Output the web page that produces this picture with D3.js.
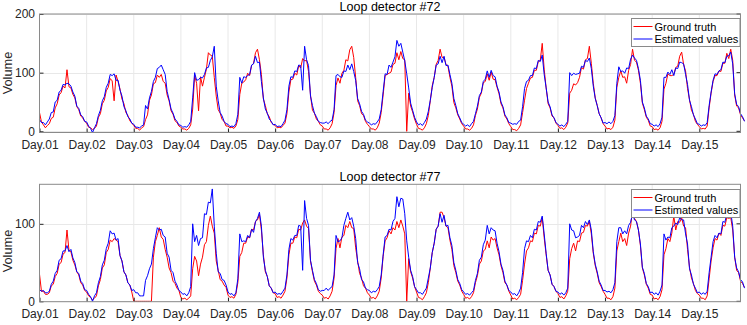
<!DOCTYPE html>
<html>
<head>
<meta charset="utf-8">
<script src="https://cdn.jsdelivr.net/npm/d3@7"></script>
<style>
  body { margin: 0; background: #fff; }
  svg { display: block; font-family: "Liberation Sans", Arial, sans-serif; }
  .tick text { fill: #262626; }
</style>
</head>
<body>
<div id="chart"></div>
<script>
// tick labels, one per day
const dayLabels = ["Day.01","Day.02","Day.03","Day.04","Day.05","Day.06","Day.07","Day.08",
                   "Day.09","Day.10","Day.11","Day.12","Day.13","Day.14","Day.15"];
const stepsPerDay = 24; // hourly readings

// Loop detector #72 - ground truth (red)
const truth72 = [
  32,16,11,6,10,13,22,24,40,47,62,66,77,74,105,76,74,63,57,42,37,26,23,17,
  14,7,6,3,5,9,24,30,47,53,69,75,90,86,52,96,85,72,55,47,32,27,18,14,
  10,5,5,2,6,8,20,28,53,62,81,83,96,92,97,85,82,62,52,35,29,18,15,9,
  7,4,4,2,5,11,38,95,82,35,93,77,92,106,134,130,128,92,60,37,31,20,17,9,
  9,6,7,5,9,20,63,82,84,88,99,95,112,116,134,140,122,97,55,44,30,25,15,12,
  10,6,7,6,10,14,30,67,88,89,99,96,112,108,124,120,121,102,62,36,31,21,17,11,
  9,4,4,2,6,13,32,78,91,82,99,104,122,120,139,145,126,92,52,44,30,27,17,12,
  8,4,4,2,6,14,32,62,95,97,99,101,114,116,134,122,136,124,122,0,65,43,33,21,
  12,5,4,2,6,13,27,52,78,92,114,121,140,126,126,114,111,92,77,49,40,28,21,13,
  9,4,4,2,5,11,27,38,58,65,83,85,98,87,101,89,88,75,64,47,40,26,21,13,
  8,3,3,1,5,11,32,53,73,82,91,92,104,104,119,121,150,106,74,47,40,26,23,14,
  10,5,6,3,7,14,65,70,81,79,83,92,109,106,122,124,145,116,82,57,44,30,23,13,
  9,4,5,3,7,19,75,92,103,92,93,82,104,114,140,121,118,104,82,48,37,24,19,9,
  8,3,4,2,6,17,72,82,98,95,95,97,109,111,128,135,114,103,73,54,36,29,17,12,
  8,4,5,4,9,40,65,85,95,95,103,102,116,116,133,124,140,121,62,43,40,28,23,18
];

// Loop detector #72 - estimated values (blue)
const est72 = [
  20,15,15,11,16,21,32,33,50,53,67,70,80,79,82,81,77,67,60,43,39,28,25,17,
  16,9,5,-2,6,13,27,36,52,59,75,82,97,95,98,87,87,70,60,42,35,25,21,14,
  12,7,7,6,9,11,44,38,57,68,85,92,107,109,113,105,97,68,54,38,31,21,17,11,
  10,7,8,7,11,17,57,100,87,88,92,91,97,108,109,121,127,145,77,52,32,26,17,13,
  12,8,9,8,13,29,92,82,93,92,95,97,113,115,128,117,118,85,57,38,31,21,17,11,
  12,8,9,8,13,19,37,77,93,92,103,102,113,112,70,145,122,112,60,44,31,25,17,15,
  14,14,16,13,17,19,37,95,97,93,92,103,102,113,105,115,102,87,56,47,34,29,19,16,
  14,11,13,12,16,21,37,68,98,97,113,109,118,127,155,145,150,135,120,98,74,48,36,24,
  16,11,13,10,15,21,34,53,75,92,113,115,128,117,128,112,113,97,82,56,44,30,23,15,
  12,9,11,8,13,17,30,43,61,67,85,89,103,92,104,95,93,77,67,50,42,28,23,15,
  14,12,13,12,17,19,42,73,85,87,95,95,108,107,121,119,130,97,74,50,42,28,23,15,
  12,9,11,8,12,17,100,95,99,97,98,99,111,109,121,119,125,107,77,56,44,30,23,14,
  15,13,16,13,17,27,82,110,102,103,99,108,107,123,130,125,121,107,87,50,40,26,21,13,
  12,9,11,8,13,24,92,92,101,97,105,95,108,107,118,117,115,97,80,53,42,28,21,13,
  12,9,11,10,15,44,67,87,98,97,103,105,118,117,128,129,135,115,64,46,42,30,25,17
];

// Loop detector #77 - ground truth (red)
const truth77 = [
  35,13,13,9,9,11,20,22,32,36,48,50,61,63,92,66,64,53,47,38,34,24,21,14,
  12,7,5,2,4,7,20,28,43,47,63,67,79,77,81,79,77,59,52,38,34,24,21,12,
  0,0,0,0,0,0,0,0,0,0,57,77,85,95,83,80,67,57,43,37,26,23,17,14,
  5,3,4,2,4,7,42,58,52,33,48,57,73,77,98,110,97,88,52,40,28,26,21,18,
  8,5,6,4,9,24,58,63,75,75,83,82,93,92,103,105,112,92,60,38,32,20,17,11,
  10,5,6,4,8,13,30,60,75,75,83,82,93,92,101,105,97,94,52,38,26,21,13,10,
  8,4,5,3,7,13,30,68,81,69,83,85,98,95,103,95,94,69,52,36,30,20,17,11,
  8,4,5,3,7,13,30,58,78,82,91,87,95,92,103,95,105,97,87,0,55,38,30,19,
  12,5,4,2,6,11,24,43,63,75,93,97,115,115,108,97,95,79,67,46,37,26,21,13,
  9,4,5,3,6,11,24,33,48,52,65,67,78,69,83,79,81,69,60,46,37,24,21,13,
  8,3,4,2,5,9,27,48,65,69,78,77,88,87,98,97,108,82,60,40,34,22,19,13,
  10,5,6,3,7,13,55,68,75,65,78,77,88,89,98,97,103,87,62,46,36,24,19,13,
  9,4,4,2,6,17,65,77,88,77,81,72,88,97,118,107,103,92,72,43,34,22,17,9,
  8,3,4,2,6,15,60,68,81,77,88,110,92,103,102,108,97,95,67,44,30,23,14,10,
  8,4,4,2,7,29,52,69,81,79,88,85,98,97,108,107,108,92,57,40,37,26,23,18
];

// Loop detector #77 - estimated values (blue)
const est77 = [
  15,13,14,11,11,13,22,26,36,40,53,55,65,65,72,64,67,56,50,38,36,26,23,15,
  14,9,6,0,7,11,24,32,47,53,68,75,91,87,88,79,81,59,52,38,34,24,21,14,
  15,11,11,7,7,7,27,33,42,48,68,82,95,92,93,85,83,62,57,40,37,26,21,14,
  12,9,10,7,11,19,100,77,85,72,81,82,113,112,128,127,145,97,62,38,36,28,27,21,
  12,9,10,7,11,29,87,77,78,77,85,82,93,89,103,107,115,97,57,40,32,20,17,11,
  12,9,10,9,13,17,34,67,81,79,85,85,98,97,40,130,107,98,53,40,28,23,15,13,
  14,14,17,14,17,19,34,85,77,78,82,98,107,115,105,108,97,81,50,42,28,25,17,15,
  14,11,13,12,15,19,34,60,83,85,93,92,103,107,135,122,133,132,113,78,57,40,32,19,
  15,11,11,9,13,17,30,43,63,75,93,97,113,102,111,97,98,82,72,50,40,28,23,15,
  12,9,10,8,11,14,27,36,53,57,73,79,98,87,95,92,91,75,64,48,40,26,21,14,
  12,9,10,7,11,17,37,68,78,77,85,82,93,92,103,102,110,87,62,40,34,22,19,13,
  12,9,11,8,11,17,100,92,91,82,83,85,98,95,103,99,105,92,64,48,38,26,21,14,
  14,12,13,11,15,24,77,95,95,87,91,87,98,102,113,105,103,92,74,44,36,23,19,11,
  12,9,11,8,13,21,87,79,83,82,95,97,101,99,108,105,105,87,74,42,34,22,17,11,
  12,9,11,9,13,37,57,77,85,82,88,87,103,102,113,109,115,97,57,43,38,28,25,17
];

const ticks72 = [0, 100, 200];
const ticks77 = [0, 100];
const seriesNames = ["Ground truth", "Estimated values"];
const seriesColors = ["#ff0000", "#0000ff"];

const W = 747, H = 325;
const axLeft = 39.5, axRight = 740.5, dayWidth = 47.13;

const svg = d3.select("#chart").append("svg")
    .attr("width", W)
    .attr("height", H);

function drawPanel(opts) {
    const x = d3.scaleLinear()
        .domain([0, 15])
        .range([axLeft, axLeft + 15 * dayWidth]);
    const y = d3.scaleLinear()
        .domain(opts.yDomain)
        .range([opts.bottom, opts.top]);

    const g = svg.append("g");
    const boxW = axRight - axLeft;

    // grid
    g.append("g")
        .selectAll("line.gx")
        .data(d3.range(1, 15))
        .enter().append("line")
        .attr("x1", d => x(d)).attr("x2", d => x(d))
        .attr("y1", opts.top).attr("y2", opts.bottom)
        .attr("stroke", "#e8e8e8");
    g.append("g")
        .selectAll("line.gy")
        .data(opts.yTicks)
        .enter().append("line")
        .attr("x1", axLeft).attr("x2", axRight)
        .attr("y1", d => Math.round(y(d)) + 0.5).attr("y2", d => Math.round(y(d)) + 0.5)
        .attr("stroke", "#e8e8e8");

    // series
    const line = d3.line()
        .x((d, i) => x(i / stepsPerDay))
        .y(d => y(d));
    g.append("path")
        .datum(opts.truth)
        .attr("fill", "none")
        .attr("stroke", seriesColors[0])
        .attr("stroke-width", 1)
        .attr("d", line);
    g.append("path")
        .datum(opts.est)
        .attr("fill", "none")
        .attr("stroke", seriesColors[1])
        .attr("stroke-width", 1)
        .attr("d", line);

    // axes
    const xAxis = d3.axisBottom(x)
        .tickValues(d3.range(0, 15))
        .tickFormat((d, i) => dayLabels[i])
        .tickSizeInner(-4).tickSizeOuter(0).tickPadding(8);
    const xg = g.append("g")
        .attr("transform", `translate(0,${opts.bottom})`)
        .call(xAxis);
    xg.select(".domain").remove();
    xg.selectAll(".tick line").attr("stroke", "#262626");
    xg.selectAll(".tick text").attr("font-size", 12);

    const yAxis = d3.axisLeft(y)
        .tickValues(opts.yTicks)
        .tickSizeInner(-4).tickSizeOuter(0).tickPadding(8);
    const yg = g.append("g")
        .attr("transform", `translate(${axLeft},0)`)
        .call(yAxis);
    yg.select(".domain").remove();
    yg.selectAll(".tick line").attr("stroke", "#262626");
    yg.selectAll(".tick text").attr("font-size", 12).attr("x", -4.5);

    // right side ticks
    g.append("g")
        .selectAll("line")
        .data(opts.yTicks)
        .enter().append("line")
        .attr("x1", axRight - 4).attr("x2", axRight)
        .attr("y1", d => y(d)).attr("y2", d => y(d))
        .attr("stroke", "#262626");

    // box
    g.append("rect")
        .attr("x", axLeft).attr("y", opts.top)
        .attr("width", boxW).attr("height", opts.bottom - opts.top)
        .attr("fill", "none")
        .attr("stroke", "#8a8a8a");

    // title
    g.append("text")
        .attr("x", (axLeft + axRight) / 2)
        .attr("y", opts.top - 3.5)
        .attr("text-anchor", "middle")
        .attr("font-size", 12.5)
        .attr("fill", "#000")
        .text(opts.title);

    // y label
    g.append("text")
        .attr("transform", `translate(12,${opts.labelY}) rotate(-90)`)
        .attr("text-anchor", "middle")
        .attr("font-size", 12.8)
        .attr("fill", "#262626")
        .text("Volume");

    // legend
    const lg = g.append("g")
        .attr("transform", `translate(631.5,${opts.legendTop})`);
    lg.append("rect")
        .attr("width", 108.5).attr("height", 28)
        .attr("fill", "#fff")
        .attr("stroke", "#8a8a8a");
    seriesNames.forEach((name, i) => {
        const ry = 8 + i * 12.5;
        lg.append("line")
            .attr("x1", 2).attr("x2", 21)
            .attr("y1", ry).attr("y2", ry)
            .attr("stroke", seriesColors[i])
            .attr("stroke-width", 1);
        lg.append("text")
            .attr("x", 23).attr("y", ry + 4)
            .attr("font-size", 11)
            .attr("fill", "#000")
            .text(name);
    });
}

drawPanel({
    title: "Loop detector #72",
    truth: truth72, est: est72,
    yDomain: [-2, 200], yTicks: ticks72,
    top: 14, bottom: 132.5, labelY: 73, legendTop: 18.5
});

drawPanel({
    title: "Loop detector #77",
    truth: truth77, est: est77,
    yDomain: [-0.5, 151], yTicks: ticks77,
    top: 184.3, bottom: 301.7, labelY: 251, legendTop: 189.5
});
</script>
</body>
</html>
